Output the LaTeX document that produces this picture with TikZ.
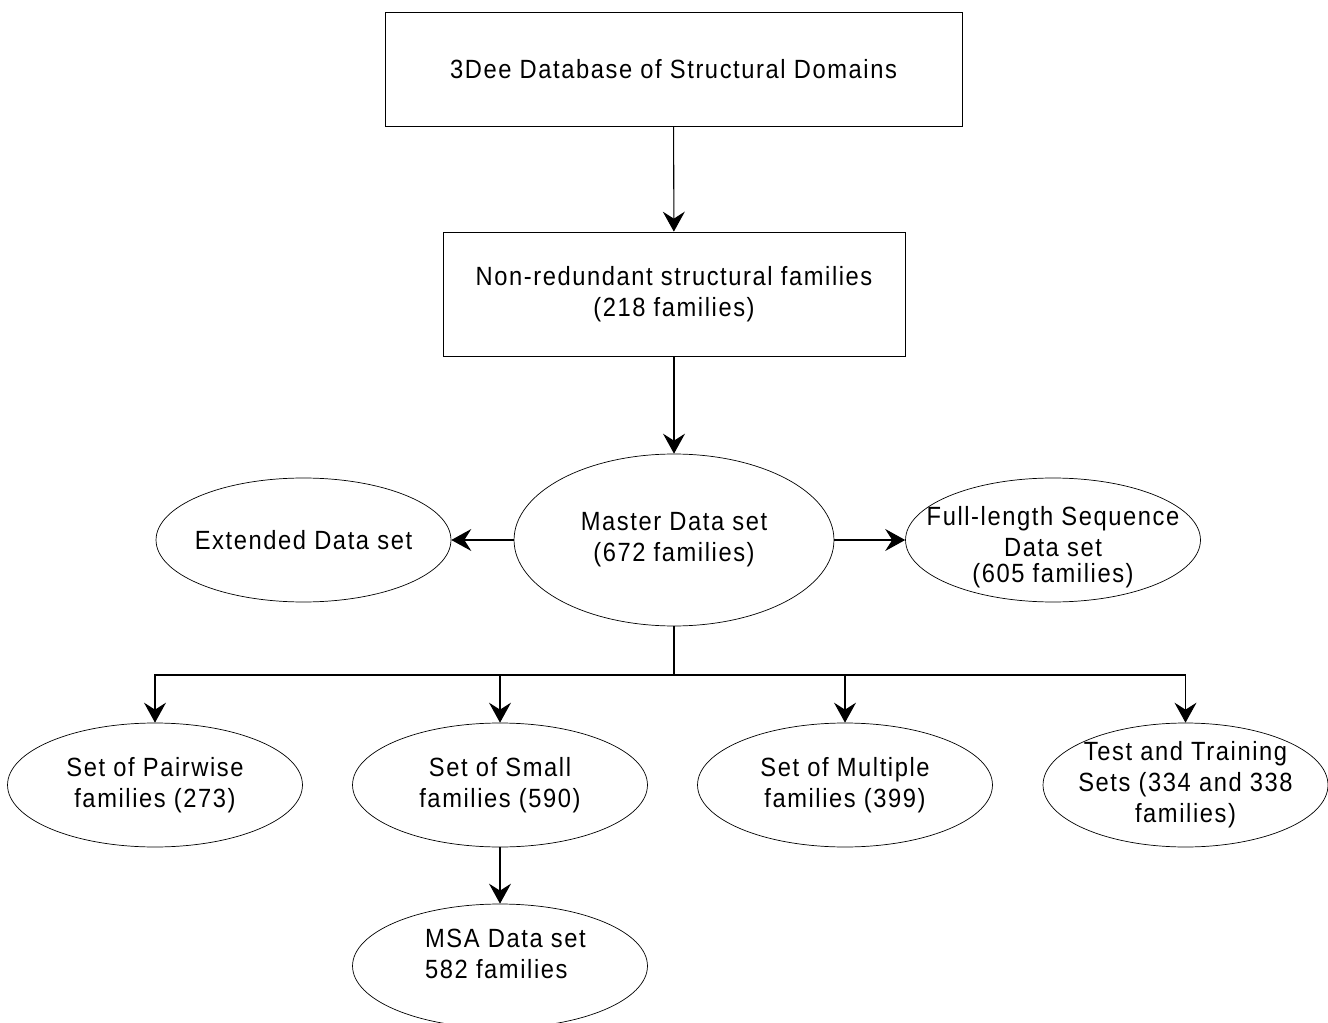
\documentclass[tikz,border=0pt]{standalone}
\usepackage{fontspec}
\setmainfont{Liberation Sans}[FakeStretch=0.9,LetterSpace=6]
\usepackage{tikz}
\usetikzlibrary{arrows.meta,shapes.geometric}

\begin{document}
\begin{tikzpicture}[x=0.02cm,y=-0.02cm,>={Stealth[length=0.4cm,width=0.44cm,inset=0.14cm]}]
 \tikzstyle{setbox} = [draw=black,thin,rectangle,inner sep=0,align=center]
 \tikzstyle{setnode} = [draw=black,thin,ellipse,inner xsep=-0.8cm,inner ysep=-0.4cm,align=center]
 \tikzstyle{link} = [line width=0.6pt]
 \newcommand{\ew}{5.9cm}
 \newcommand{\eh}{2.48cm}
 \fontsize{15pt}{17.6pt}\selectfont

  \useasboundingbox (0,0) rectangle (1328,1023);

  % Boxes
  \node[setbox,minimum width=11.54cm,minimum height=2.28cm] (db) at (673.5,69) {3Dee Database of Structural Domains};
  \node[setbox,minimum width=9.24cm,minimum height=2.48cm] (nonred) at (674,294) {Non-redundant structural families\\(218 families)};

  % Data sets
  \node[setnode,minimum width=6.4cm,minimum height=3.44cm] (master) at (674,540) {Master Data set\\(672 families)};
  \node[setnode,minimum width=\ew,minimum height=\eh] (extended) at (303.5,540) {Extended Data set};
  \node[setnode,minimum width=\ew,minimum height=\eh] (fulllen) at (1053,540) {};
  \node[align=center] (fulltext) at (1053,547) {Full-length Sequence\\Data set\\[-3pt](605 families)};

  \node[setnode,minimum width=\ew,minimum height=\eh] (pairwise) at (155,785) {Set of Pairwise\\families (273)};
  \node[setnode,minimum width=\ew,minimum height=\eh] (small) at (500,785) {Set of Small\\families (590)};
  \node[setnode,minimum width=\ew,minimum height=\eh] (multiple) at (845,785) {Set of Multiple\\families (399)};
  \node[setnode,minimum width=5.7cm,minimum height=\eh] (testtrain) at (1185.5,785) {Test and Training\\Sets (334 and 338\\families)};
  \node[setnode,minimum width=\ew,minimum height=\eh] (msa) at (500,966) {};
  \node[align=left,anchor=west] (msatext) at (416,954) {MSA Data set\\582 families};

  \coordinate (split) at (674,675);

  % Connectors
  \draw[link,->] (db) -- (nonred);
  \draw[link,->] (nonred) -- (master);
  \draw[link,->] (master) -- (extended);
  \draw[link,->] (master) -- (fulllen);
  \draw[link] (master.south) -- (split);
  \draw[link,->] (split) -| (pairwise.north);
  \draw[link,->] (split) -| (small.north);
  \draw[link,->] (split) -| (multiple.north);
  \draw[link,->] (split) -| (testtrain.north);
  \draw[link,->] (small) -- (msa);

\end{tikzpicture}
\end{document}
